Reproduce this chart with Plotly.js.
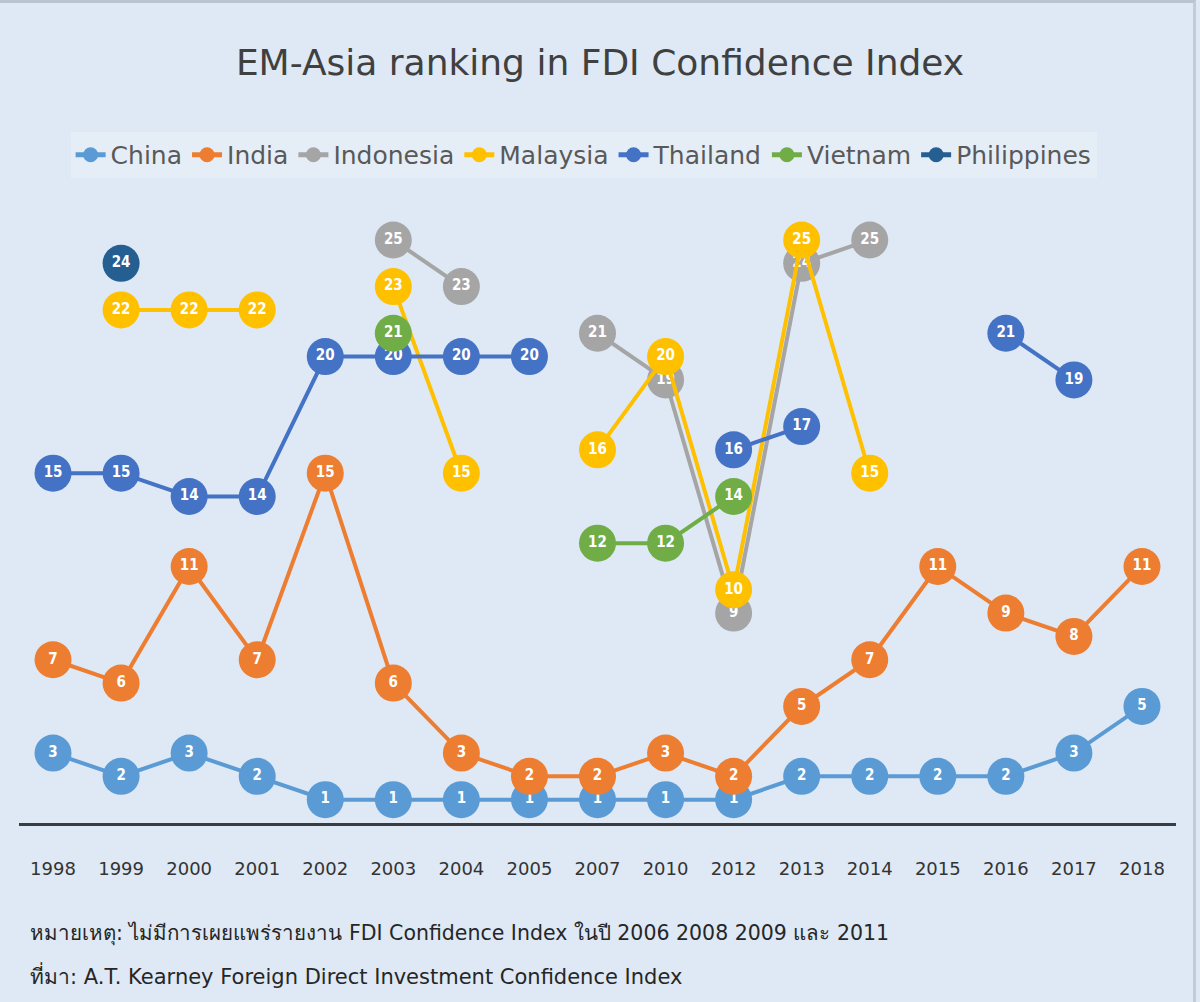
<!DOCTYPE html>
<html>
<head>
<meta charset="utf-8">
<script src="https://cdn.plot.ly/plotly-3.0.1.min.js"></script>
<style>
  html, body { margin: 0; padding: 0; background: #dee9f5; }
  #wrap { position: relative; width: 1200px; height: 1002px; }
  #chart { width: 1200px; height: 1002px; }
  #frame { position: absolute; left: 0; top: 0; width: 1196px; height: 1002px;
           border-top: 3px solid #b9c4cf; border-right: 3px solid #c3ccd6;
           box-sizing: border-box; pointer-events: none; }
</style>
</head>
<body>
<div id="wrap">
  <div id="chart"></div>
  <div id="frame"></div>
</div>
<script>
// Survey years (no index was published in 2006, 2008, 2009 and 2011)
const years = ['1998', '1999', '2000', '2001', '2002', '2003', '2004', '2005', '2007',
               '2010', '2012', '2013', '2014', '2015', '2016', '2017', '2018'];

// Rank in the FDI Confidence Index; null = not ranked that year
const china       = [3, 2, 3, 2, 1, 1, 1, 1, 1, 1, 1, 2, 2, 2, 2, 3, 5];
const india       = [7, 6, 11, 7, 15, 6, 3, 2, 2, 3, 2, 5, 7, 11, 9, 8, 11];
const indonesia   = [null, null, null, null, null, 25, 23, null, 21, 19, 9, 24, 25, null, null, null, null];
const malaysia    = [null, 22, 22, 22, null, 23, 15, null, 16, 20, 10, 25, 15, null, null, null, null];
const thailand    = [15, 15, 14, 14, 20, 20, 20, 20, null, null, 16, 17, null, null, 21, 19, null];
const vietnam     = [null, null, null, null, null, 21, null, null, 12, 12, 14, null, null, null, null, null, null];
const philippines = [null, 24, null, null, null, null, null, null, null, null, null, null, null, null, null, null, null];

const seriesNames = ['China', 'India', 'Indonesia', 'Malaysia', 'Thailand', 'Vietnam', 'Philippines'];
const seriesData  = [china, india, indonesia, malaysia, thailand, vietnam, philippines];
const seriesColors = ['#5b9bd5', '#ed7d31', '#a5a5a5', '#ffc000', '#4472c4', '#70ad47', '#255e91'];

const labelFont = 'DejaVu Sans Condensed, DejaVu Sans, sans-serif';
const textFont = 'DejaVu Sans, Noto Sans, sans-serif';

const traces = [];
seriesNames.forEach((name, i) => {
  const vals = seriesData[i];
  traces.push({
    type: 'scatter',
    mode: 'lines+markers+text',
    name: name,
    x: years,
    y: vals,
    text: vals.map(v => (v === null ? '' : String(v))),
    textposition: 'middle center',
    textfont: { family: labelFont, size: 15, color: '#ffffff', weight: 'bold' },
    line: { color: seriesColors[i], width: 4 },
    marker: { color: seriesColors[i], size: 37 },
    showlegend: false,
    hoverinfo: 'skip',
    cliponaxis: false
  });
});
// Legend entries (line with a small dot, as in the key)
seriesNames.forEach((name, i) => {
  traces.push({
    type: 'scatter',
    mode: 'lines+markers',
    name: name,
    x: [null],
    y: [null],
    line: { color: seriesColors[i], width: 5 },
    marker: { color: seriesColors[i], size: 15 },
    showlegend: true,
    hoverinfo: 'skip'
  });
});

const layout = {
  width: 1200,
  height: 1002,
  paper_bgcolor: '#dee9f5',
  plot_bgcolor: '#dee9f5',
  margin: { l: 19, r: 24, t: 205, b: 179, pad: 0 },
  showlegend: true,
  title: {
    text: 'EM-Asia ranking in FDI Confidence Index',
    font: { family: textFont, size: 36, color: '#404040' },
    x: 0.5, xanchor: 'center',
    y: 0.938, yanchor: 'middle', yref: 'container'
  },
  legend: {
    orientation: 'h',
    x: 0.488, xanchor: 'center',
    y: 1.081, yanchor: 'middle',
    bgcolor: 'rgba(255,255,255,0.22)',
    font: { family: textFont, size: 25, color: '#595959' },
    itemwidth: 30,
    tracegroupgap: 0
  },
  xaxis: {
    type: 'category',
    range: [-0.5, 16.5],
    showgrid: false,
    zeroline: false,
    showline: true,
    linecolor: '#3a3d40',
    linewidth: 3,
    ticks: 'outside',
    ticklen: 27,
    tickcolor: 'rgba(0,0,0,0)',
    tickfont: { family: textFont, size: 18, color: '#333333' },
    fixedrange: true
  },
  yaxis: {
    range: [0, 26.5],
    showgrid: false,
    zeroline: false,
    showline: false,
    showticklabels: false,
    ticks: '',
    fixedrange: true
  },
  annotations: [
    {
      xref: 'paper', yref: 'paper',
      x: 0.008, y: -0.178, xanchor: 'left', yanchor: 'middle',
      text: 'หมายเหตุ: ไม่มีการเผยแพร่รายงาน FDI Confidence Index ในปี 2006 2008 2009 และ 2011',
      showarrow: false,
      font: { family: textFont, size: 20.5, color: '#262626' }
    },
    {
      xref: 'paper', yref: 'paper',
      x: 0.008, y: -0.246, xanchor: 'left', yanchor: 'middle',
      text: 'ที่มา: A.T. Kearney Foreign Direct Investment Confidence Index',
      showarrow: false,
      font: { family: textFont, size: 21, color: '#262626' }
    }
  ]
};

Plotly.newPlot('chart', traces, layout, { displayModeBar: false, staticPlot: true });
</script>
</body>
</html>
